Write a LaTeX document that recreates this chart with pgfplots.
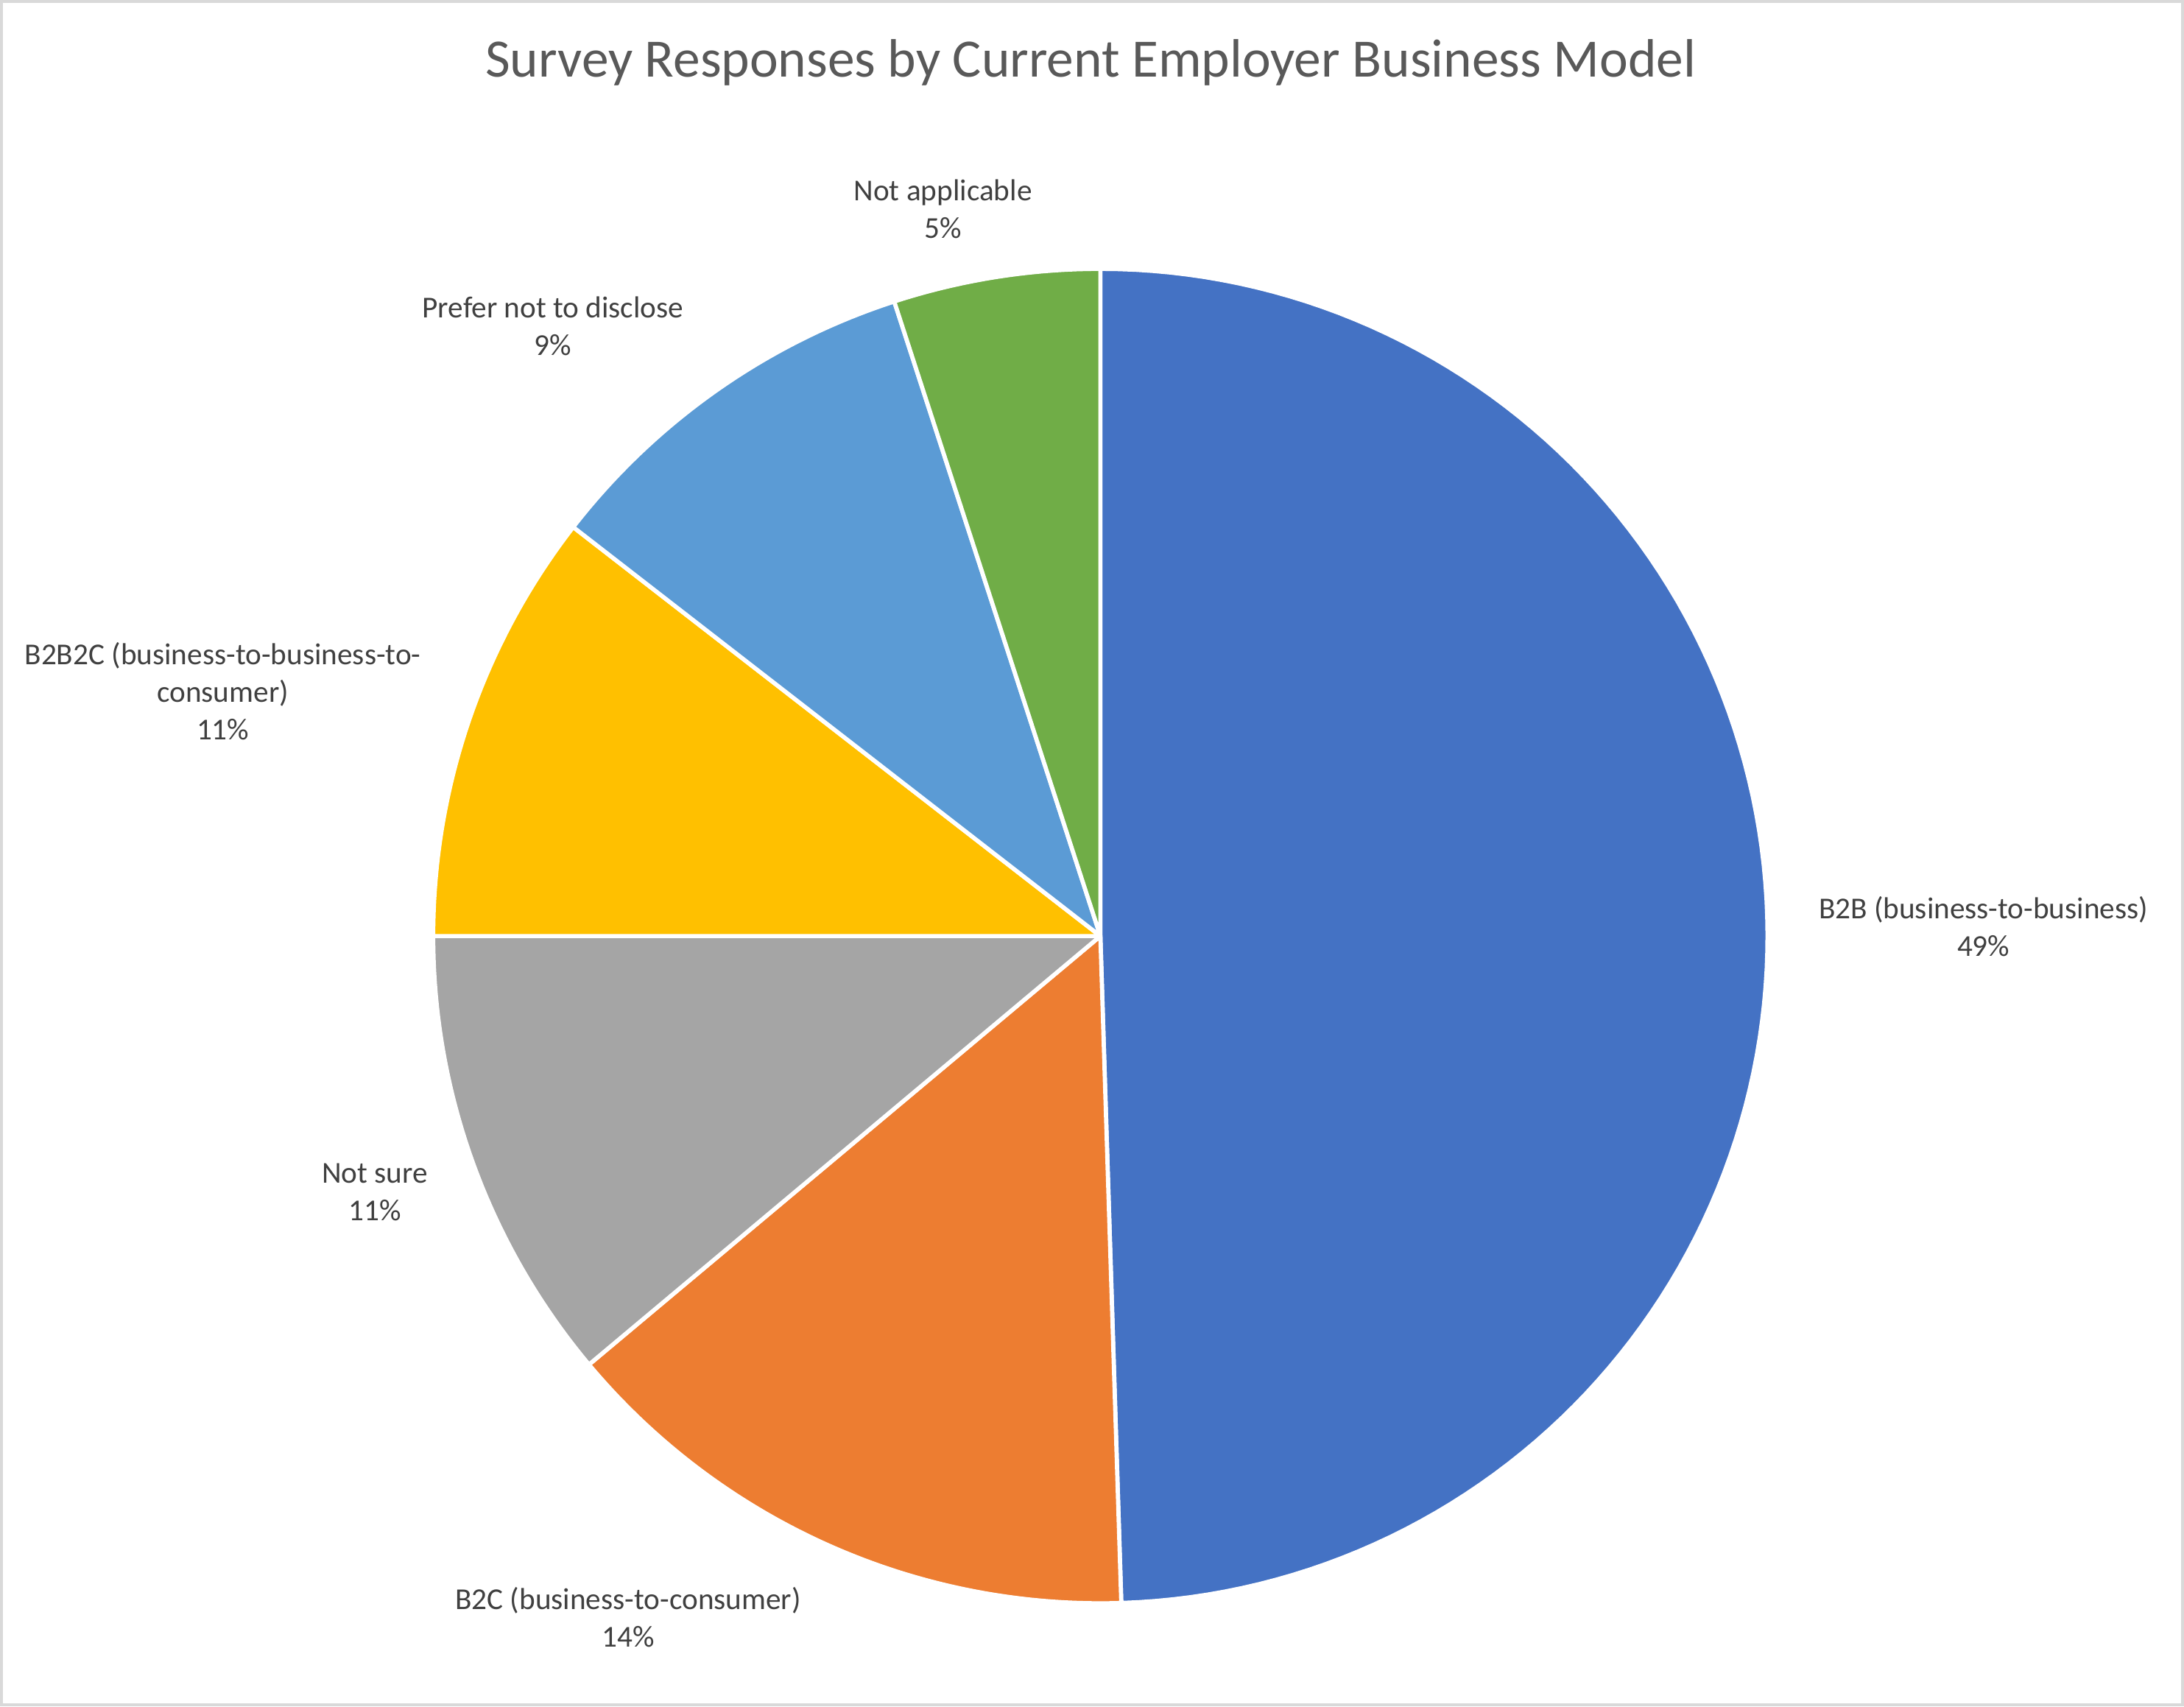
\documentclass[border=0pt]{standalone}
\usepackage{pgfplots}
\pgfplotsset{compat=1.18}
\usepackage{fontspec}
\setmainfont{Carlito}
\definecolor{cB2B}{HTML}{4472C4}
\definecolor{cB2C}{HTML}{ED7D31}
\definecolor{cNS}{HTML}{A5A5A5}
\definecolor{cBBC}{HTML}{FFC000}
\definecolor{cPN}{HTML}{5B9BD5}
\definecolor{cNA}{HTML}{70AD47}
\definecolor{titlec}{HTML}{595959}
\definecolor{labc}{HTML}{404040}
\definecolor{borderc}{HTML}{D9D9D9}
% shares (percent), clockwise from 12 o'clock
\def\pB{49.5}
\def\pC{14.4}
\def\pS{11.1}
\def\pBC{10.5}
\def\pP{9.5}
\def\pA{5.0}
\newcommand\slice[3]{% start pct, end pct, color
  \pgfmathsetmacro\angA{90-3.6*(#2)}%
  \pgfmathsetmacro\angB{90-3.6*(#1)}%
  \addplot[fill=#3, draw=white, line width=1.5pt, line join=round, domain=\angA:\angB, samples=120]
    ({790+479*cos(x)},{553+479*sin(x)}) -- (axis cs:790,553) -- cycle;
}
\begin{document}
\begin{tikzpicture}
\begin{axis}[
  width=784pt, height=612.5pt, scale only axis,
  xmin=0, xmax=1568, ymin=0, ymax=1225,
  hide axis, clip=false,
]
\draw[borderc, line width=1pt] (axis cs:1,1) rectangle (axis cs:1567,1224);
\pgfmathsetmacro\cA{0}
\pgfmathsetmacro\cB{\pB}
\pgfmathsetmacro\cC{\pB+\pC}
\pgfmathsetmacro\cD{\pB+\pC+\pS}
\pgfmathsetmacro\cE{\pB+\pC+\pS+\pBC}
\pgfmathsetmacro\cF{\pB+\pC+\pS+\pBC+\pP}
\pgfmathsetmacro\cG{\pB+\pC+\pS+\pBC+\pP+\pA}
\slice{\cA}{\cB}{cB2B}
\slice{\cB}{\cC}{cB2C}
\slice{\cC}{\cD}{cNS}
\slice{\cD}{\cE}{cBBC}
\slice{\cE}{\cF}{cPN}
\slice{\cF}{\cG}{cNA}
\node[text=titlec, font=\fontsize{19.4}{23}\selectfont] at (axis cs:783,1180) {Survey Responses by Current Employer Business Model};
\tikzset{lab/.style={text=labc, align=center, font=\fontsize{10.9}{13.5}\selectfont}}
\node[lab] at (axis cs:677,1075) {Not applicable\\5\%};
\node[lab] at (axis cs:397,991) {Prefer not to disclose\\9\%};
\node[lab] at (axis cs:160,729) {B2B2C (business-to-business-to-\\consumer)\\11\%};
\node[lab] at (axis cs:1424,560) {B2B (business-to-business)\\49\%};
\node[lab] at (axis cs:269,369) {Not sure\\11\%};
\node[lab] at (axis cs:451,64) {B2C (business-to-consumer)\\14\%};
\end{axis}
\end{tikzpicture}
\end{document}
